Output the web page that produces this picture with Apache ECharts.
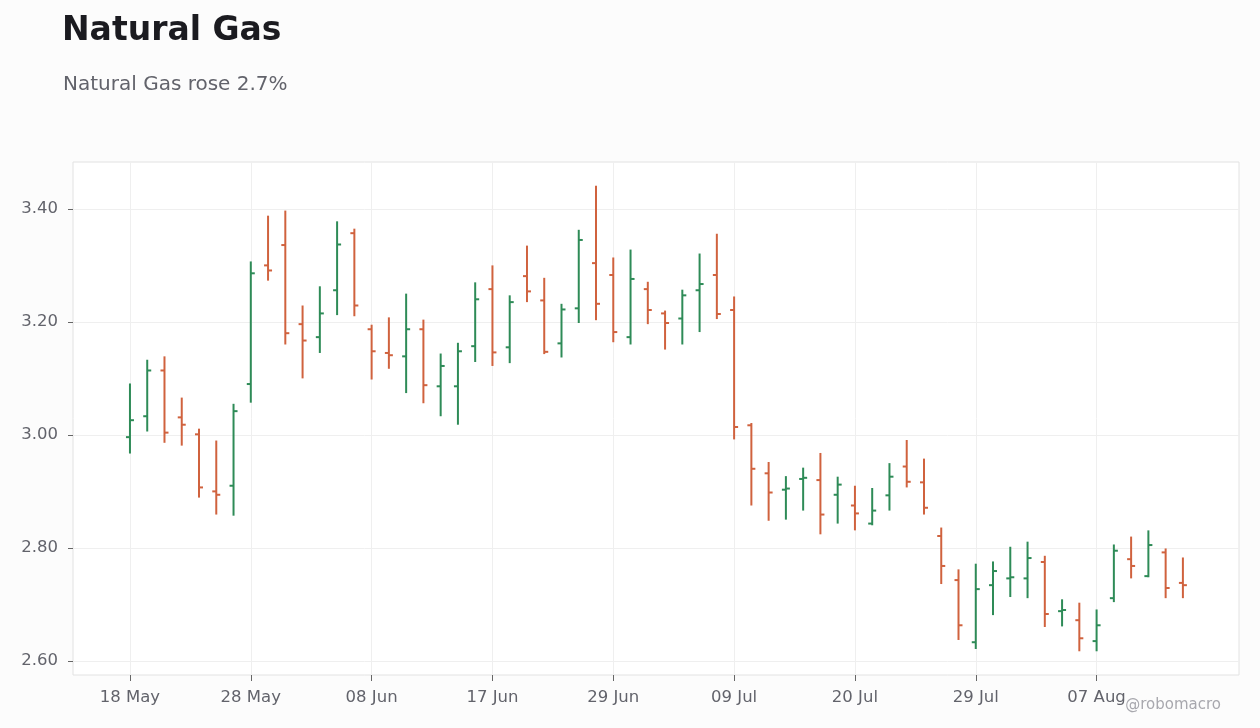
<!DOCTYPE html>
<html>
<head>
<meta charset="utf-8">
<title>Natural Gas</title>
<script src="https://cdn.jsdelivr.net/npm/echarts@6/dist/echarts.min.js"></script>
<style>
  html, body { margin: 0; padding: 0; background: #fcfcfc; }
  #main { width: 1260px; height: 728px; }
</style>
</head>
<body>
<div id="main"></div>
<script>
// trading days (category labels)
var dates = [
  '18 May', '19 May', '20 May', '21 May', '22 May', '26 May', '27 May', '28 May', '29 May', '01 Jun',
  '02 Jun', '03 Jun', '04 Jun', '05 Jun', '08 Jun', '09 Jun', '10 Jun', '11 Jun', '12 Jun', '15 Jun',
  '16 Jun', '17 Jun', '18 Jun', '22 Jun', '23 Jun', '24 Jun', '25 Jun', '26 Jun', '29 Jun', '30 Jun',
  '01 Jul', '02 Jul', '06 Jul', '07 Jul', '08 Jul', '09 Jul', '10 Jul', '13 Jul', '14 Jul', '15 Jul',
  '16 Jul', '17 Jul', '20 Jul', '21 Jul', '22 Jul', '23 Jul', '24 Jul', '27 Jul', '28 Jul', '29 Jul',
  '30 Jul', '31 Jul', '03 Aug', '04 Aug', '05 Aug', '06 Aug', '07 Aug', '10 Aug', '11 Aug', '12 Aug',
  '13 Aug', '14 Aug'
]

var opens = [
  2.996, 3.033, 3.114, 3.031, 3.001, 2.900, 2.910, 3.090, 3.300, 3.336,
  3.196, 3.173, 3.256, 3.357, 3.187, 3.145, 3.139, 3.187, 3.086, 3.086,
  3.157, 3.258, 3.155, 3.281, 3.238, 3.162, 3.224, 3.304, 3.283, 3.173,
  3.258, 3.215, 3.206, 3.256, 3.283, 3.221, 3.017, 2.932, 2.903, 2.922,
  2.920, 2.894, 2.875, 2.843, 2.893, 2.944, 2.916, 2.821, 2.743, 2.633,
  2.734, 2.746, 2.746, 2.775, 2.688, 2.672, 2.635, 2.711, 2.780, 2.750,
  2.792, 2.738
]
var highs = [
  3.091, 3.133, 3.139, 3.066, 3.011, 2.990, 3.055, 3.307, 3.388, 3.397,
  3.229, 3.263, 3.378, 3.365, 3.195, 3.208, 3.250, 3.204, 3.144, 3.163,
  3.270, 3.300, 3.247, 3.335, 3.278, 3.232, 3.363, 3.441, 3.314, 3.328,
  3.271, 3.220, 3.257, 3.321, 3.356, 3.245, 3.021, 2.952, 2.927, 2.942,
  2.968, 2.926, 2.910, 2.906, 2.950, 2.991, 2.958, 2.836, 2.762, 2.772,
  2.776, 2.802, 2.811, 2.786, 2.709, 2.703, 2.691, 2.806, 2.820, 2.831,
  2.799, 2.783
]
var lows = [
  2.967, 3.006, 2.986, 2.981, 2.889, 2.859, 2.857, 3.057, 3.273, 3.160,
  3.100, 3.145, 3.212, 3.210, 3.098, 3.117, 3.074, 3.056, 3.033, 3.018,
  3.129, 3.122, 3.127, 3.235, 3.143, 3.137, 3.198, 3.203, 3.164, 3.160,
  3.196, 3.151, 3.160, 3.182, 3.205, 2.992, 2.875, 2.848, 2.850, 2.866,
  2.824, 2.843, 2.831, 2.840, 2.866, 2.907, 2.859, 2.736, 2.637, 2.621,
  2.681, 2.713, 2.711, 2.660, 2.661, 2.617, 2.617, 2.704, 2.746, 2.748,
  2.711, 2.711
]
var closes = [
  3.026, 3.114, 3.004, 3.018, 2.907, 2.894, 3.042, 3.286, 3.291, 3.180,
  3.167, 3.215, 3.337, 3.229, 3.148, 3.141, 3.187, 3.088, 3.122, 3.148,
  3.240, 3.146, 3.235, 3.254, 3.147, 3.222, 3.345, 3.232, 3.182, 3.276,
  3.221, 3.198, 3.247, 3.267, 3.214, 3.014, 2.940, 2.898, 2.905, 2.924,
  2.859, 2.912, 2.861, 2.866, 2.926, 2.917, 2.871, 2.768, 2.663, 2.727,
  2.759, 2.748, 2.782, 2.683, 2.690, 2.640, 2.663, 2.795, 2.768, 2.805,
  2.729, 2.734
]

// axis ticks
var yTicks = [2.6, 2.8, 3.0, 3.2, 3.4]
var xTicks = [0, 7, 14, 21, 28, 35, 42, 49, 56]

var upColor = '#2e8b57'
var downColor = '#d0623e'
var textColor = '#62636b'

var ohlc = dates.map(function (d, i) {
  return [i, opens[i], highs[i], lows[i], closes[i]]
})

// draw one OHLC bar: high-low stem, open tick left, close tick right
function renderBar(params, api) {
  var x = api.value(0)
  var o = api.coord([x, api.value(1)])
  var h = api.coord([x, api.value(2)])
  var l = api.coord([x, api.value(3)])
  var c = api.coord([x, api.value(4)])
  var color = api.value(4) >= api.value(1) ? upColor : downColor
  var style = { stroke: color, lineWidth: 2 }
  return {
    type: 'group',
    children: [
      { type: 'line', shape: { x1: h[0], y1: h[1], x2: l[0], y2: l[1] }, style: style },
      { type: 'line', shape: { x1: o[0] - 4, y1: o[1], x2: o[0], y2: o[1] }, style: style },
      { type: 'line', shape: { x1: c[0], y1: c[1], x2: c[0] + 4, y2: c[1] }, style: style }
    ]
  }
}

var chart = echarts.init(document.getElementById('main'))

var option = {
  backgroundColor: '#fcfcfc',
  animation: false,
  title: [{
    text: 'Natural Gas',
    left: 62,
    top: 15,
    padding: 0,
    textStyle: { fontFamily: 'DejaVu Sans', fontSize: 33, fontWeight: 'bold', color: '#1b1b20' }
  }, {
    text: 'Natural Gas rose 2.7%',
    left: 63,
    top: 75,
    padding: 0,
    textStyle: { fontFamily: 'DejaVu Sans', fontSize: 20, fontWeight: 'normal', color: textColor }
  }],
  grid: {
    left: 73,
    right: 21,
    top: 162,
    bottom: 53,
    show: true,
    backgroundColor: '#ffffff',
    borderColor: '#e2e2e2',
    borderWidth: 1
  },
  xAxis: {
    type: 'value',
    min: -3.3,
    max: 64.25,
    position: 'bottom',
    axisLine: { show: false, onZero: false },
    axisTick: { show: true, length: 6, customValues: xTicks, lineStyle: { color: '#666' } },
    axisLabel: {
      customValues: xTicks,
      margin: 14,
      color: textColor,
      fontFamily: 'DejaVu Sans',
      fontSize: 16.5,
      formatter: function (v) { return dates[Math.round(v)] }
    },
    splitLine: { show: true, lineStyle: { color: '#efefef' } }
  },
  yAxis: {
    type: 'value',
    min: 2.575,
    max: 3.483,
    position: 'left',
    axisLine: { show: false, onZero: false },
    axisTick: { show: true, length: 5, customValues: yTicks, lineStyle: { color: '#666' } },
    axisLabel: {
      customValues: yTicks,
      margin: 15,
      color: textColor,
      fontFamily: 'DejaVu Sans',
      fontSize: 16.5,
      formatter: function (v) { return v.toFixed(2) }
    },
    splitLine: { show: true, lineStyle: { color: '#efefef' } }
  },
  graphic: [{
    type: 'text',
    x: 1221,
    y: 705,
    style: {
      text: '@robomacro',
      fill: '#a8a8ae',
      font: '15px "DejaVu Sans"',
      textAlign: 'right',
      textVerticalAlign: 'middle'
    },
    z: 10
  }],
  series: [{
    type: 'custom',
    renderItem: renderBar,
    data: ohlc,
    encode: { x: 0, y: [1, 2, 3, 4] },
    clip: true
  }]
}

chart.setOption(option)
</script>
</body>
</html>
